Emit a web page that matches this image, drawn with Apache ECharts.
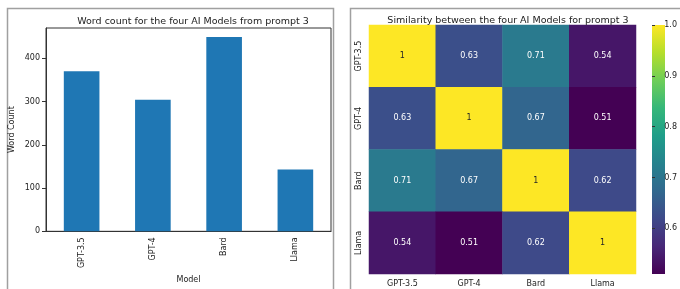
<!DOCTYPE html>
<html>
<head>
<meta charset="utf-8">
<script src="https://cdn.jsdelivr.net/npm/echarts@6/dist/echarts.min.js"></script>
<style>
  html, body { margin: 0; padding: 0; background: #fff; }
  #chart { width: 680px; height: 289px; }
</style>
</head>
<body>
<div id="chart"></div>
<script>
// data
var models = ['GPT-3.5', 'GPT-4', 'Bard', 'Llama'];
var wordCounts = [370, 304, 449, 143];
var similarity = [
  [1, 0.63, 0.71, 0.54],
  [0.63, 1, 0.67, 0.51],
  [0.71, 0.67, 1, 0.62],
  [0.54, 0.51, 0.62, 1]
];
var colorbarTicks = [0.6, 0.7, 0.8, 0.9, 1.0];

var viridis = ['#440154', '#482878', '#3e4989', '#31688e', '#26828e',
               '#1f9e89', '#35b779', '#6ece58', '#b5de2b', '#fde725'];
var font = 'DejaVu Sans';

var heatData = [];
for (var r = 0; r < models.length; r++) {
  for (var c = 0; c < models.length; c++) {
    var v = similarity[r][c];
    heatData.push({
      value: [c, r, v],
      label: { color: v > 0.85 ? '#262626' : '#ffffff' }
    });
  }
}

// colorbar gradient, top = yellow, bottom = purple
var barStops = viridis.map(function (col, i) {
  return { offset: 1 - i / (viridis.length - 1), color: col };
}).reverse();

var myChart = echarts.init(document.getElementById('chart'));
myChart.setOption({
  animation: false,
  textStyle: { fontFamily: font },
  title: [
    { text: 'Word count for the four AI Models from prompt 3', left: 188, top: 12, textAlign: 'center',
      textStyle: { fontFamily: font, fontSize: 9.5, fontWeight: 'normal', color: '#222' } },
    { text: 'Similarity between the four AI Models for prompt 3', left: 503, top: 11, textAlign: 'center',
      textStyle: { fontFamily: font, fontSize: 9.5, fontWeight: 'normal', color: '#222' } }
  ],
  graphic: [
    { type: 'rect', shape: { x: 7.5, y: 8.5, width: 326, height: 300 },
      style: { fill: 'none', stroke: '#a0a0a0', lineWidth: 1.5 } },
    { type: 'rect', shape: { x: 350.5, y: 8.5, width: 400, height: 300 },
      style: { fill: 'none', stroke: '#a0a0a0', lineWidth: 1.5 } },
    { type: 'rect', shape: { x: 652, y: 25, width: 13, height: 249 },
      style: { fill: new echarts.graphic.LinearGradient(0, 0, 0, 1, barStops) } }
  ],
  grid: [
    { left: 46, top: 28, width: 285, height: 213, show: true, borderColor: '#333', borderWidth: 1 },
    { left: 369, top: 25, width: 267, height: 249 },
    { left: 652, top: 25, width: 13, height: 249 }
  ],
  xAxis: [
    { type: 'category', gridIndex: 0, data: models,
      name: 'Model', nameLocation: 'middle', nameGap: 41,
      nameTextStyle: { fontSize: 8, color: '#222' },
      axisLine: { lineStyle: { color: '#333' } },
      axisTick: { alignWithLabel: true, length: 4, lineStyle: { color: '#333' } },
      axisLabel: { rotate: 90, fontSize: 8, color: '#222', margin: 6 } },
    { type: 'category', gridIndex: 1, data: models,
      axisLine: { show: false },
      axisTick: { alignWithLabel: true, length: 4, lineStyle: { color: '#333' } },
      axisLabel: { fontSize: 8, color: '#222', margin: 6 } },
    { type: 'value', gridIndex: 2, show: false }
  ],
  yAxis: [
    { type: 'value', gridIndex: 0, min: 0, max: 470, interval: 100,
      name: 'Word Count', nameLocation: 'middle', nameGap: 30,
      nameTextStyle: { fontSize: 8, color: '#222' },
      splitLine: { show: false },
      axisLine: { show: true, lineStyle: { color: '#333' } },
      axisTick: { show: true, length: 4, customValues: [0, 100, 200, 300, 400], lineStyle: { color: '#333' } },
      axisLabel: { fontSize: 8, color: '#222', margin: 6, showMaxLabel: false } },
    { type: 'category', gridIndex: 1, data: models, inverse: true,
      axisLine: { show: false },
      axisTick: { alignWithLabel: true, length: 4, lineStyle: { color: '#333' } },
      axisLabel: { rotate: 90, fontSize: 8, color: '#222', margin: 6 } },
    { type: 'value', gridIndex: 2, position: 'right', min: 0.51, max: 1.0,
      splitLine: { show: false },
      axisLine: { show: false },
      axisTick: { show: true, length: 3, customValues: colorbarTicks, lineStyle: { color: '#333' } },
      axisLabel: { fontSize: 8, color: '#222', margin: 4, customValues: colorbarTicks,
        formatter: function (v) { return v.toFixed(1); } } }
  ],
  visualMap: {
    type: 'continuous', show: false, seriesIndex: 1, dimension: 2,
    min: 0.51, max: 1.0,
    inRange: { color: viridis }
  },
  series: [
    { type: 'bar', xAxisIndex: 0, yAxisIndex: 0, data: wordCounts,
      barWidth: '50%', itemStyle: { color: '#1f77b4' } },
    { type: 'heatmap', xAxisIndex: 1, yAxisIndex: 1, data: heatData,
      label: { show: true, fontSize: 8,
        formatter: function (p) { var v = p.value[2]; return v === 1 ? '1' : v.toFixed(2); } } }
  ]
});
</script>
</body>
</html>
